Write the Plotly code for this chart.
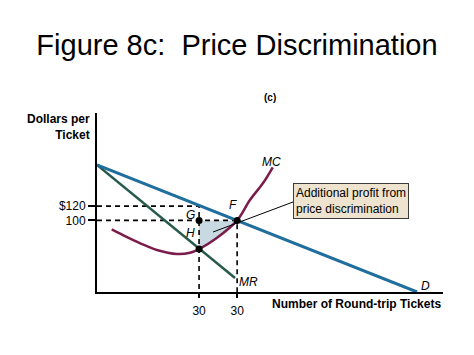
import plotly.graph_objects as go

# ---- data ----
demand_q = [0, 92.5]
demand_p = [177.4, 0]
mr_q = [0, 39.9]
mr_p = [177.4, 19.6]
mc_q = [4.25, 7.5, 12.4, 17.3, 23.1, 26.9, 29.5, 34.6, 40.5, 44.2, 48.0, 50.8]
mc_p = [87.6, 79.6, 68.4, 58.7, 53.1, 54.9, 60.0, 75.4, 100.0, 128.5, 152.2, 174.2]
q_single = 29.5      # output at G/H
q_disc = 40.5        # output at F
p_high = 120
p_low = 100
p_h = 60
y_tick_vals = [p_low, p_high]
y_tick_text = ["100", "$120"]
x_tick_vals = [q_single, q_disc]
x_tick_text = ["30", "30"]

FONT = "Liberation Sans, Arial, sans-serif"
BLUE = "#1f6e9e"
GREEN = "#265a4c"
MAROON = "#7b1c4c"

# page body has an 8px margin; lay the figure out in window pixels minus that
OFF = 8
W, H = 474 - OFF, 355 - OFF
# plot area in window pixels
L, R, T, B = 97, 443, 113, 292


def px(x):
    return (x - L) / (R - L)


def py(y):
    return (B - y) / (B - T)


fig = go.Figure()

# shaded area G-F-(MC)-H
shade_q = [q_single, q_disc]
shade_p = [p_low, p_low]
for q, p in reversed(list(zip(mc_q, mc_p))):
    if q_single <= q < q_disc:
        shade_q.append(q)
        shade_p.append(p)
shade_q.append(q_single)
shade_p.append(p_low)
fig.add_trace(go.Scatter(x=shade_q, y=shade_p, mode="lines", fill="toself",
                         fillcolor="#c9d9e1", line=dict(width=0),
                         hoverinfo="skip", showlegend=False))

# dashed guide lines
fig.add_trace(go.Scatter(x=[0, q_single, q_single], y=[p_high, p_high, 0], mode="lines",
                         line=dict(color="black", width=1.6, dash="5px,4px"), showlegend=False))
fig.add_trace(go.Scatter(x=[0, q_disc, q_disc], y=[p_low, p_low, 0], mode="lines",
                         line=dict(color="black", width=1.6, dash="5px,4px"), showlegend=False))

# curves
fig.add_trace(go.Scatter(x=mr_q, y=mr_p, mode="lines",
                         line=dict(color=GREEN, width=2.5), showlegend=False))
fig.add_trace(go.Scatter(x=mc_q, y=mc_p, mode="lines", line_shape="spline",
                         line=dict(color=MAROON, width=2.5), showlegend=False))
fig.add_trace(go.Scatter(x=demand_q, y=demand_p, mode="lines",
                         line=dict(color=BLUE, width=3), showlegend=False))

# points
fig.add_trace(go.Scatter(x=[q_single, q_disc, q_single], y=[p_low, p_low, p_h], mode="markers",
                         marker=dict(color="black", size=7), showlegend=False))

# pointer line from box to shaded area
fig.add_shape(type="line", xref="paper", yref="paper",
              x0=px(293), y0=py(202), x1=px(213), y1=py(232),
              line=dict(color="black", width=1))

ann = []


def lab(text, x, y, size=12, italic=False, bold=False, xanchor="center", **kw):
    t = text
    if bold:
        t = "<b>" + t + "</b>"
    if italic:
        t = "<i>" + t + "</i>"
    ann.append(dict(text=t, x=px(x), y=py(y), xref="paper", yref="paper",
                    xanchor=xanchor, yanchor="middle", showarrow=False,
                    font=dict(family=FONT, size=size, color="black"), **kw))


lab("Dollars per<br>Ticket", 92, 127, size=12, bold=True, xanchor="right", align="right")
lab("Number of Round-trip Tickets", 443, 304, size=12, bold=True, xanchor="right")
lab("(c)", 270, 97, size=10, bold=True)
lab("MC", 271, 162, italic=True)
lab("MR", 248, 282, italic=True)
lab("D", 425, 286, italic=True)
lab("F", 233, 205, italic=True)
lab("G", 190, 215, italic=True)
lab("H", 190, 233, italic=True)
ann.append(dict(text="Additional profit from<br>price discrimination",
                x=px(293), y=py(200.5), xref="paper", yref="paper",
                xanchor="left", yanchor="middle", align="left", showarrow=False,
                bgcolor="#ede3cf", bordercolor="#3a3a3a", borderwidth=1, borderpad=2,
                font=dict(family=FONT, size=12, color="black")))

fig.update_layout(
    width=W, height=H,
    margin=dict(l=L - OFF, r=474 - R, t=T - OFF, b=355 - B),
    paper_bgcolor="white", plot_bgcolor="white",
    title=dict(text="Figure 8c:  Price Discrimination", x=0.5 - OFF / 2 / W, xanchor="center",
               y=1 - (45 - OFF) / H, yanchor="middle",
               font=dict(family=FONT, size=29, color="black")),
    annotations=ann,
    xaxis=dict(range=[0, 100], showgrid=False, zeroline=False, showline=True,
               linecolor="black", linewidth=2, ticks="outside", ticklen=4,
               tickcolor="black", tickwidth=1.5,
               tickvals=x_tick_vals, ticktext=x_tick_text, ticklabelstandoff=3,
               tickfont=dict(family=FONT, size=12, color="black")),
    yaxis=dict(range=[0, 250], showgrid=False, zeroline=False, showline=True,
               linecolor="black", linewidth=2, ticks="outside", ticklen=7,
               tickcolor="black", tickwidth=1.5,
               tickvals=y_tick_vals, ticktext=y_tick_text,
               tickfont=dict(family=FONT, size=12, color="black")),
)

fig.write_html("out.html")
